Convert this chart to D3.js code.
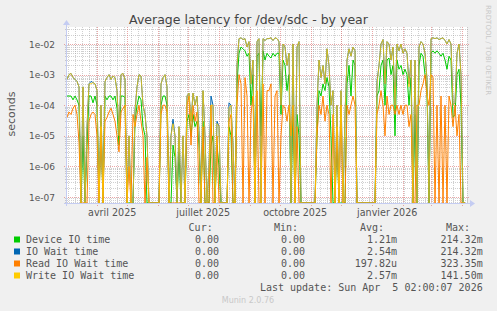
<!DOCTYPE html>
<html>
<head>
<meta charset="utf-8">
<script src="https://cdn.jsdelivr.net/npm/d3@7"></script>
<style>
  html, body { margin: 0; padding: 0; background: #f0f0f0; }
  svg { display: block; }
</style>
</head>
<body>
<svg id="chart" width="497" height="311"></svg>
<script>
// Munin "Average latency for /dev/sdc - by year", log scale, 2-day samples

const seriesNames = ['Device IO time', 'IO Wait time', 'Read IO Wait time', 'Write IO Wait time'];
const seriesColors = ['#00cc00', '#0066b3', '#ff8000', '#ffcc00'];
const legendCur = ['0.00', '0.00', '0.00', '0.00'];
const legendMin = ['0.00', '0.00', '0.00', '0.00'];
const legendAvg = ['1.21m', '2.54m', '197.82u', '2.57m'];
const legendMax = ['214.32m', '214.32m', '323.35m', '141.50m'];

const firstSample = new Date(2025, 2, 2, 7);
const stepDays = 2;

const deviceIO = [
  2e-4, 2e-4, 2e-4, 1.5e-4, 2e-4, 1.5e-4, 1e-4, 0, 1e-5, 0,
  5e-6, 2e-4, 2e-4, 1.2e-4, 2e-4, 1e-4, 0, 3e-5, 0, 2e-4,
  1.5e-4, 2e-4, 2e-4, 1.5e-4, 2e-4, 8e-5, 5e-6, 2e-4, 2e-4, 1.8e-4,
  0, 0, 0, 0, 3e-5, 1e-4, 2e-4, 1.5e-4, 2e-5, 1e-5,
  0, 0, 0, 0, 0, 0, 0, 1e-4, 2e-4, 2e-4,
  1e-4, 0, 0, 5e-6, 2e-6, 0, 3e-6, 0, 0, 0,
  3e-5, 5e-5, 1e-5, 5e-5, 2e-5, 3e-5, 5e-6, 0, 3e-5, 0,
  0, 0, 5e-6, 1e-5, 0, 5e-6, 1e-6, 0, 0, 0,
  0, 2e-5, 1e-5, 0, 0, 5e-4, 5e-3, 8e-3, 7e-3, 6e-3,
  4e-3, 5e-3, 1e-4, 1e-3, 0, 4e-3, 5e-3, 1e-5, 6e-3, 3e-3,
  5e-3, 4e-3, 3.5e-3, 5e-3, 4e-3, 5e-3, 5e-3, 5e-5, 3e-3, 2e-3,
  3e-4, 1e-3, 0, 1e-4, 0, 5e-5, 1e-5, 0, 0, 0,
  0, 0, 0, 0, 0, 1e-5, 3e-4, 2e-4, 5e-4, 3e-4,
  8e-4, 4e-4, 1e-5, 0, 0, 1e-5, 0, 0, 0, 0,
  5e-4, 2e-3, 2e-4, 3e-3, 2e-3, 0, 0, 0, 0, 0,
  0, 0, 0, 0, 0, 2e-4, 3e-4, 2e-3, 3e-3, 1e-4,
  3e-3, 3.5e-3, 1e-3, 2e-3, 1e-5, 3e-3, 1.5e-3, 2e-3, 1e-3, 1.5e-3,
  1e-3, 1e-4, 8e-4, 0, 5e-5, 0, 2e-3, 5e-3, 4e-3, 1e-3,
  3e-4, 0, 5e-3, 6e-3, 5e-3, 6e-3, 5e-3, 4e-3, 5e-3, 3e-3,
  1.5e-3, 4e-3, 3e-3, 4e-5, 5e-5, 1e-3, 1.5e-3, 1e-4, 0, 0
];

const ioWait = [
  7e-4, 1e-3, 1.1e-3, 8e-4, 7e-4, 6e-4, 4e-4, 0, 4e-4, 0,
  2e-5, 5e-4, 6e-4, 5.5e-4, 5e-4, 3e-4, 0, 1e-4, 0, 6e-4,
  8e-4, 1e-3, 7e-4, 9e-4, 8e-4, 3e-4, 1e-5, 1e-3, 1.1e-3, 7e-4,
  0, 1e-5, 0, 0, 7e-5, 4e-4, 1e-3, 9e-4, 1e-4, 5e-5,
  1e-5, 0, 0, 0, 0, 0, 0, 5e-4, 8e-4, 1e-3,
  4e-4, 0, 1e-5, 3.5e-5, 1e-5, 0, 2e-5, 0, 1e-5, 0,
  2e-4, 2.5e-4, 3e-5, 2.5e-4, 1e-4, 2e-4, 1.5e-5, 0, 3e-4, 1e-5,
  0, 1e-6, 2e-4, 1e-4, 0, 3e-5, 2e-5, 0, 0, 0,
  0, 1.2e-4, 1e-4, 5e-6, 0, 2e-3, 1.5e-2, 1.6e-2, 1.4e-2, 1.5e-2,
  8e-3, 1.2e-2, 5e-4, 3e-3, 0, 1.2e-2, 1.5e-2, 0, 1.5e-2, 1.3e-2,
  1.5e-2, 1.5e-2, 1.6e-2, 1.3e-2, 1.6e-2, 1.5e-2, 1.2e-2, 1e-4, 1e-2, 8e-3,
  2e-3, 5e-3, 0, 1e-2, 0, 8e-3, 1.2e-2, 0, 0, 0,
  0, 0, 0, 0, 0, 1e-4, 3e-3, 8e-4, 2e-3, 5e-4,
  7e-3, 2e-3, 1e-4, 3e-4, 0, 1e-4, 0, 3e-4, 0, 5e-5,
  3e-3, 7e-3, 4e-3, 8e-3, 6e-3, 0, 0, 0, 0, 0,
  0, 0, 0, 0, 0, 6e-4, 2e-3, 1e-2, 1.4e-2, 5e-4,
  1.2e-2, 1e-2, 3e-3, 8e-3, 1e-4, 1e-2, 6e-3, 1e-2, 5e-3, 7e-3,
  5e-3, 5e-4, 3e-3, 0, 3e-3, 0, 8e-3, 1.2e-2, 1e-2, 5e-3,
  7e-4, 0, 1.5e-2, 1.6e-2, 1.5e-2, 1.6e-2, 1.4e-2, 1.5e-2, 1.6e-2, 1.3e-2,
  1e-2, 1.4e-2, 1e-2, 1e-4, 1.2e-4, 5e-3, 1e-2, 1e-3, 0, 0
];

const readWait = [
  4e-5, 6e-5, 5e-5, 8e-5, 1e-4, 5e-5, 6e-6, 0, 0, 0,
  0, 3e-5, 5e-5, 6e-5, 5e-5, 1e-5, 0, 2e-5, 0, 3e-5,
  4e-5, 6e-5, 8e-5, 5e-5, 3e-5, 1e-5, 3e-6, 6e-5, 8e-5, 1e-4,
  0, 1e-6, 0, 5e-5, 2e-5, 5e-5, 1e-4, 3e-5, 1e-5, 0,
  2e-6, 0, 0, 0, 0, 0, 0, 5e-5, 1e-4, 1e-4,
  6e-5, 0, 0, 0, 0, 0, 0, 0, 0, 0,
  1e-4, 2e-4, 5e-6, 1e-4, 3e-5, 6e-5, 0, 0, 2e-5, 0,
  0, 0, 1e-4, 0, 0, 1e-5, 0, 0, 0, 0,
  0, 3e-5, 5e-5, 0, 0, 1e-4, 1e-3, 5e-4, 0, 8e-4,
  2e-4, 0, 5e-5, 2e-4, 0, 3e-4, 0, 0, 5e-4, 0,
  3e-4, 3e-4, 5e-4, 0, 2e-4, 3e-4, 0, 1e-5, 1e-4, 8e-5,
  3e-5, 1e-4, 1e-5, 1e-4, 0, 2e-5, 0, 0, 0, 0,
  0, 0, 0, 0, 0, 1e-5, 1e-4, 5e-5, 2e-4, 3e-5,
  1e-4, 5e-5, 0, 5e-5, 0, 2e-5, 0, 1e-4, 0, 0,
  1e-4, 5e-5, 1e-4, 2e-4, 1e-4, 0, 0, 0, 0, 0,
  0, 0, 0, 0, 0, 5e-5, 1e-4, 3e-4, 1e-4, 1e-5,
  2e-4, 5e-5, 1e-4, 1e-4, 5e-5, 1e-4, 5e-5, 1e-4, 5e-5, 1e-4,
  1e-4, 2e-5, 5e-5, 0, 0, 1e-4, 1e-4, 3e-4, 5e-4, 1e-3,
  2e-4, 1e-4, 1e-3, 8e-4, 0, 1e-4, 0, 2e-4, 0, 1e-4,
  0, 2e-4, 1e-4, 2e-5, 1e-4, 1e-5, 5e-5, 0, 0, 0
];

const writeWait = [
  7e-4, 1e-3, 1.1e-3, 8e-4, 7e-4, 6e-4, 4e-4, 0, 4e-4, 0,
  2e-5, 5e-4, 5e-4, 5.5e-4, 5e-4, 3e-4, 0, 1e-4, 0, 6e-4,
  8e-4, 1e-3, 7e-4, 9e-4, 8e-4, 3e-4, 1e-5, 1e-3, 1.1e-3, 7e-4,
  0, 1e-5, 0, 0, 6e-5, 4e-4, 1e-3, 9e-4, 1e-4, 5e-5,
  1e-5, 0, 0, 0, 0, 0, 0, 5e-4, 8e-4, 1e-3,
  4e-4, 0, 1e-5, 2.5e-5, 1e-5, 0, 2e-5, 0, 1e-5, 0,
  2e-4, 2.5e-4, 3e-5, 2.5e-4, 1e-4, 2e-4, 1e-5, 0, 3e-4, 1e-5,
  0, 1e-6, 1e-4, 1e-4, 0, 2.5e-5, 2e-5, 0, 0, 0,
  0, 8e-5, 1e-4, 5e-6, 0, 2e-3, 1.5e-2, 1.6e-2, 1.4e-2, 1.5e-2,
  8e-3, 1.2e-2, 5e-4, 3e-3, 0, 1.2e-2, 1.5e-2, 0, 1.5e-2, 1.3e-2,
  1.5e-2, 1.5e-2, 1.6e-2, 1.3e-2, 1.6e-2, 1.5e-2, 1.2e-2, 1e-4, 1e-2, 8e-3,
  2e-3, 5e-3, 0, 1e-2, 0, 8e-3, 1.2e-2, 0, 0, 0,
  0, 0, 0, 0, 0, 1e-4, 3e-3, 8e-4, 2e-3, 5e-4,
  7e-3, 2e-3, 1e-4, 3e-4, 0, 1e-4, 0, 3e-4, 0, 5e-5,
  3e-3, 7e-3, 4e-3, 8e-3, 6e-3, 0, 0, 0, 0, 0,
  0, 0, 0, 0, 0, 5e-4, 2e-3, 1e-2, 1.4e-2, 5e-4,
  1.2e-2, 1e-2, 3e-3, 8e-3, 1e-4, 1e-2, 6e-3, 1e-2, 5e-3, 7e-3,
  5e-3, 4e-4, 3e-3, 0, 3e-3, 0, 8e-3, 1.2e-2, 1e-2, 5e-3,
  7e-4, 0, 1.5e-2, 1.6e-2, 1.5e-2, 1.6e-2, 1.4e-2, 1.5e-2, 1.6e-2, 1.3e-2,
  1e-2, 1.4e-2, 1e-2, 1e-4, 1.2e-4, 5e-3, 1e-2, 1e-3, 0, 0
];

const yTicks = [1e-2, 1e-3, 1e-4, 1e-5, 1e-6, 1e-7];
const yTickLabels = ['1e-02', '1e-03', '1e-04', '1e-05', '1e-06', '1e-07'];
const xLabelDates = [new Date(2025, 3, 16, 12), new Date(2025, 6, 16, 12), new Date(2025, 9, 16, 12), new Date(2026, 0, 16, 12)];
const xLabels = ['avril 2025', 'juillet 2025', 'octobre 2025', 'janvier 2026'];

const allSeries = [deviceIO, ioWait, readWait, writeWait];

const svg = d3.select('#chart');
const plot = { left: 67, right: 467, top: 27, bottom: 203 };

const x = d3.scaleTime()
  .domain([new Date(2025, 2, 2, 7), new Date(2026, 3, 6, 7)])
  .range([plot.left, plot.right]);

const yMin = 6.4e-8;
const y = d3.scaleLog()
  .domain([yMin, 0.036])
  .range([plot.bottom, plot.top]);

// plot canvas
svg.append('rect')
  .attr('x', plot.left).attr('y', plot.top)
  .attr('width', plot.right - plot.left).attr('height', plot.bottom - plot.top)
  .attr('fill', '#ffffff');

const grid = svg.append('g').attr('shape-rendering', 'crispEdges');

// minor horizontal grid (2..9 of each decade)
const minorY = [];
for (let e = -8; e <= -1; e++) {
  for (let k = 2; k <= 9; k++) {
    const v = k * Math.pow(10, e);
    if (v > yMin && v < 0.036) minorY.push(v);
  }
}
grid.selectAll('.ygrid-minor')
  .data(minorY)
  .join('line')
  .attr('x1', plot.left - 2).attr('x2', plot.right + 2)
  .attr('y1', d => Math.round(y(d)) + 0.5).attr('y2', d => Math.round(y(d)) + 0.5)
  .attr('stroke', 'rgba(150,150,150,0.45)')
  .attr('stroke-dasharray', '1,1');

// weekly vertical grid
const weeks = d3.timeMonday.range(x.domain()[0], x.domain()[1]);
grid.selectAll('.xgrid-minor')
  .data(weeks)
  .join('line')
  .attr('x1', d => Math.round(x(d)) + 0.5).attr('x2', d => Math.round(x(d)) + 0.5)
  .attr('y1', plot.top).attr('y2', plot.bottom + 2)
  .attr('stroke', 'rgba(150,150,150,0.45)')
  .attr('stroke-dasharray', '1,1');

// major grid: decades and months
grid.selectAll('.ygrid-major')
  .data(yTicks)
  .join('line')
  .attr('x1', plot.left - 3).attr('x2', plot.right + 2)
  .attr('y1', d => Math.round(y(d)) + 0.5).attr('y2', d => Math.round(y(d)) + 0.5)
  .attr('stroke', 'rgba(225,120,120,0.65)')
  .attr('stroke-dasharray', '1,1');

const months = d3.timeMonth.range(x.domain()[0], x.domain()[1]);
grid.selectAll('.xgrid-major')
  .data(months)
  .join('line')
  .attr('x1', d => Math.round(x(d)) + 0.5).attr('x2', d => Math.round(x(d)) + 0.5)
  .attr('y1', plot.top).attr('y2', plot.bottom + 3)
  .attr('stroke', 'rgba(225,120,120,0.65)')
  .attr('stroke-dasharray', '1,1');

// series lines
svg.append('clipPath').attr('id', 'clip')
  .append('rect')
  .attr('x', plot.left).attr('y', plot.top)
  .attr('width', plot.right - plot.left).attr('height', plot.bottom - plot.top + 1);

const line = d3.line()
  .x((d, i) => x(d3.timeDay.offset(firstSample, i * stepDays)))
  .y(d => y(Math.max(d, yMin)));

// write wait is drawn last and slightly see-through, like rrdtool's blended lines
svg.append('g')
  .attr('clip-path', 'url(#clip)')
  .selectAll('path')
  .data(allSeries)
  .join('path')
  .attr('d', line)
  .attr('fill', 'none')
  .attr('stroke', (d, i) => seriesColors[i])
  .attr('stroke-opacity', (d, i) => i === 3 ? 0.8 : 1)
  .attr('stroke-width', 1);

// axes with arrows
const axisColor = '#c4ccf2';
svg.append('line')
  .attr('x1', plot.left - 3).attr('x2', plot.right + 5)
  .attr('y1', plot.bottom + 0.5).attr('y2', plot.bottom + 0.5)
  .attr('stroke', axisColor);
svg.append('path')
  .attr('d', `M${plot.right + 3},${plot.bottom - 3} L${plot.right + 8},${plot.bottom + 0.5} L${plot.right + 3},${plot.bottom + 4} Z`)
  .attr('fill', axisColor);
svg.append('line')
  .attr('x1', plot.left - 0.5).attr('x2', plot.left - 0.5)
  .attr('y1', plot.bottom + 3).attr('y2', plot.top - 4)
  .attr('stroke', axisColor);
svg.append('path')
  .attr('d', `M${plot.left - 4},${plot.top - 2} L${plot.left - 0.5},${plot.top - 7} L${plot.left + 3},${plot.top - 2} Z`)
  .attr('fill', axisColor);

// y tick labels
svg.append('g')
  .selectAll('text')
  .data(yTicks)
  .join('text')
  .attr('x', 55)
  .attr('y', d => y(d) + 3.5)
  .attr('text-anchor', 'end')
  .attr('font-family', 'DejaVu Sans')
  .attr('font-size', '9px')
  .attr('fill', '#555')
  .text((d, i) => yTickLabels[i]);

// x tick labels
svg.append('g')
  .selectAll('text')
  .data(xLabelDates)
  .join('text')
  .attr('x', d => x(d))
  .attr('y', 216)
  .attr('text-anchor', 'middle')
  .attr('font-family', 'DejaVu Sans')
  .attr('font-size', '9.6px')
  .attr('fill', '#555')
  .text((d, i) => xLabels[i]);

// title and axis label
svg.append('text')
  .attr('x', 248.5).attr('y', 24)
  .attr('text-anchor', 'middle')
  .attr('font-family', 'DejaVu Sans')
  .attr('font-size', '12.5px')
  .attr('fill', '#444')
  .text('Average latency for /dev/sdc - by year');

svg.append('text')
  .attr('transform', 'translate(15,114) rotate(-90)')
  .attr('text-anchor', 'middle')
  .attr('font-family', 'DejaVu Sans')
  .attr('font-size', '11px')
  .attr('fill', '#555')
  .text('seconds');

svg.append('text')
  .attr('transform', 'translate(486,5) rotate(90)')
  .attr('font-family', 'DejaVu Sans')
  .attr('font-size', '7px')
  .attr('fill', '#c8c8c8')
  .text('RRDTOOL / TOBI OETIKER');

// legend
const legend = svg.append('g')
  .attr('font-family', 'DejaVu Sans Mono')
  .attr('font-size', '10px')
  .attr('fill', '#555');

const headers = [['Cur:', 212.7], ['Min:', 298], ['Avg:', 384], ['Max:', 470]];
legend.selectAll('.hdr')
  .data(headers)
  .join('text')
  .attr('x', d => d[1])
  .attr('y', 231)
  .attr('text-anchor', 'end')
  .text(d => d[0]);

const rows = legend.selectAll('.row')
  .data(seriesNames)
  .join('g')
  .attr('transform', (d, i) => `translate(0,${243 + i * 12})`);

rows.append('rect')
  .attr('x', 14).attr('y', -6.5)
  .attr('width', 6).attr('height', 6)
  .attr('fill', (d, i) => seriesColors[i]);

rows.append('text').attr('x', 26).text(d => d);
rows.append('text').attr('x', 219).attr('text-anchor', 'end').text((d, i) => legendCur[i]);
rows.append('text').attr('x', 305).attr('text-anchor', 'end').text((d, i) => legendMin[i]);
rows.append('text').attr('x', 397).attr('text-anchor', 'end').text((d, i) => legendAvg[i]);
rows.append('text').attr('x', 482.7).attr('text-anchor', 'end').text((d, i) => legendMax[i]);

legend.append('text')
  .attr('x', 482.7).attr('y', 291)
  .attr('text-anchor', 'end')
  .attr('xml:space', 'preserve')
  .style('white-space', 'pre')
  .text('Last update: Sun Apr  5 02:00:07 2026');

svg.append('text')
  .attr('x', 248).attr('y', 303)
  .attr('text-anchor', 'middle')
  .attr('font-family', 'DejaVu Sans')
  .attr('font-size', '8px')
  .attr('fill', '#c8c8c8')
  .text('Munin 2.0.76');
</script>
</body>
</html>
